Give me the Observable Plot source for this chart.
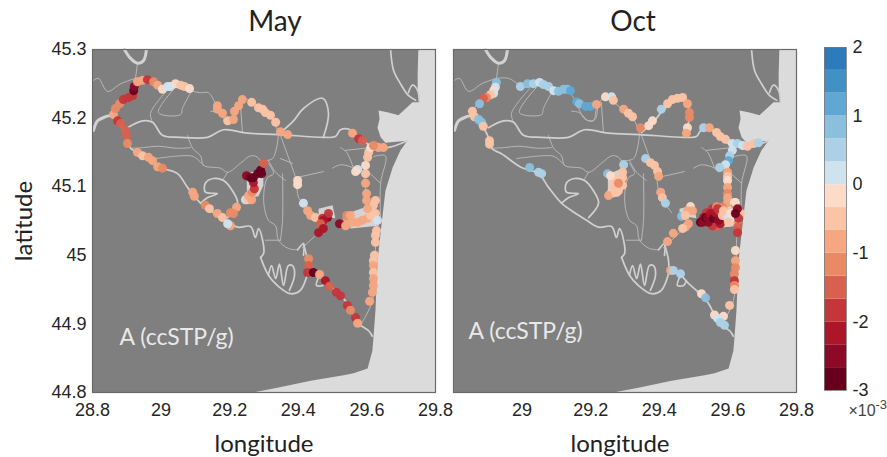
<!DOCTYPE html>
<html>
<head>
<meta charset="utf-8">
<script src="https://cdn.jsdelivr.net/npm/d3@7"></script>
<script src="https://cdn.jsdelivr.net/npm/@observablehq/plot@0.6"></script>
<style>
html,body{margin:0;padding:0;background:#fff;}
#chart{display:flex;width:887px;height:457px;overflow:hidden;}
#chart svg{display:block;flex:none;overflow:visible;background:transparent;}
</style>
</head>
<body>
<div id="chart"></div>
<script>
// Longitude / latitude of the sea outline
const sea = [[29.750,45.300],[29.748,45.265],[29.748,45.245],[29.753,45.223],[29.733,45.223],[29.707,45.211],[29.692,45.204],[29.663,45.208],[29.634,45.211],[29.637,45.199],[29.631,45.186],[29.640,45.172],[29.654,45.164],[29.718,45.167],[29.698,45.153],[29.675,45.128],[29.654,45.094],[29.645,45.055],[29.631,44.992],[29.625,44.920],[29.619,44.879],[29.616,44.861],[29.602,44.835],[29.561,44.828],[29.532,44.825],[29.436,44.817],[29.339,44.807],[29.266,44.800],[29.800,44.800],[29.800,45.300]];
const lakes = [
 [[29.250,45.118],[29.284,45.125],[29.298,45.122],[29.298,45.102],[29.284,45.086],[29.258,45.084],[29.250,45.096]],
 [[29.549,45.062],[29.611,45.073],[29.634,45.058],[29.634,45.043],[29.552,45.039]],
 [[29.459,45.068],[29.500,45.073],[29.508,45.054],[29.459,45.058]]
];
const riverCanals = [
 [[28.893,45.300],[28.911,45.287],[28.931,45.280],[28.949,45.284],[28.957,45.299]],
 [[28.803,45.182],[28.815,45.196],[28.838,45.202],[28.852,45.204]]
];
const mainCanals = [
 [[28.852,45.204],[28.873,45.196],[28.902,45.172],[28.911,45.156],[28.940,45.148],[28.998,45.128],[29.048,45.119],[29.077,45.099],[29.115,45.076],[29.153,45.062],[29.188,45.051],[29.223,45.041],[29.261,45.042],[29.275,45.026],[29.284,45.039],[29.296,45.022],[29.299,45.003],[29.290,44.997]],
 [[29.290,44.997],[29.313,44.971],[29.339,44.956],[29.377,44.944],[29.406,44.949],[29.427,44.973]],
 [[29.313,44.971],[29.322,44.985],[29.334,44.966],[29.345,44.987],[29.357,44.956],[29.371,44.985],[29.383,44.985],[29.389,44.971],[29.374,44.949]],
 [[29.427,44.973],[29.456,44.973],[29.485,44.959],[29.514,44.946],[29.543,44.930],[29.573,44.901],[29.581,44.898],[29.605,44.890],[29.616,44.882]],
 [[29.459,44.968],[29.453,44.956],[29.471,44.956],[29.479,44.963]],
 [[29.415,45.017],[29.427,44.992],[29.427,44.973]],
 [[29.398,45.008],[29.415,45.017],[29.415,45.000]],
 [[29.115,45.076],[29.135,45.084],[29.164,45.090],[29.129,45.092],[29.129,45.105],[29.153,45.112],[29.182,45.109],[29.208,45.094],[29.223,45.076],[29.194,45.055]],
 [[28.902,45.186],[28.946,45.196],[28.975,45.194],[29.004,45.175],[29.057,45.172],[29.135,45.172],[29.182,45.183],[29.252,45.178],[29.342,45.176],[29.473,45.172],[29.508,45.173],[29.523,45.183],[29.552,45.183],[29.581,45.170],[29.611,45.160],[29.660,45.157],[29.718,45.167]],
 [[29.348,45.179],[29.386,45.196],[29.415,45.214],[29.471,45.229],[29.488,45.207],[29.473,45.172]],
 [[29.669,45.300],[29.678,45.269],[29.698,45.250],[29.721,45.233],[29.742,45.226]],
 [[29.721,45.237],[29.733,45.248],[29.748,45.240],[29.753,45.223]]
];
const minorCanals = [
 [[28.931,45.280],[28.925,45.258],[28.917,45.243],[28.861,45.215],[28.852,45.204]],
 [[28.803,45.255],[28.817,45.258],[28.844,45.239],[28.882,45.250],[28.925,45.258]],
 [[28.925,45.258],[28.960,45.258],[29.007,45.245],[29.042,45.248],[29.086,45.240],[29.115,45.237],[29.138,45.237],[29.159,45.221],[29.182,45.199],[29.208,45.196],[29.217,45.214],[29.237,45.229],[29.266,45.223],[29.290,45.214],[29.319,45.204],[29.342,45.178]],
 [[28.975,45.194],[28.969,45.207],[29.022,45.243]],
 [[29.042,45.245],[28.992,45.208],[29.057,45.205],[29.062,45.214],[29.086,45.237]],
 [[29.231,45.223],[29.237,45.179]],
 [[29.144,45.210],[29.167,45.208],[29.194,45.196],[29.214,45.199],[29.220,45.218]],
 [[28.911,45.156],[28.949,45.157],[28.990,45.159],[29.048,45.156],[29.086,45.157]],
 [[29.077,45.175],[29.092,45.156],[29.115,45.145],[29.124,45.131],[29.173,45.127],[29.194,45.121],[29.231,45.134],[29.261,45.145],[29.281,45.143],[29.296,45.131]],
 [[28.984,45.141],[29.057,45.145],[29.094,45.144],[29.124,45.131]],
 [[29.194,45.121],[29.179,45.109]],
 [[29.342,45.175],[29.325,45.141],[29.290,45.138]],
 [[29.348,45.175],[29.371,45.143],[29.392,45.113],[29.401,45.084],[29.415,45.076],[29.436,45.062]],
 [[29.348,45.141],[29.383,45.134]],
 [[29.313,45.138],[29.334,45.121],[29.363,45.109]],
 [[29.354,45.119],[29.354,45.051],[29.348,45.022]],
 [[29.313,45.134],[29.328,45.119],[29.310,45.113],[29.299,45.080],[29.313,45.051],[29.334,45.043],[29.342,45.022],[29.371,45.010],[29.398,45.008]],
 [[29.304,45.022],[29.348,45.022]],
 [[29.392,45.113],[29.473,45.122]],
 [[29.500,45.127],[29.523,45.132],[29.561,45.127],[29.573,45.121]],
 [[29.523,45.157],[29.541,45.150],[29.561,45.127]],
 [[29.538,45.153],[29.611,45.157]],
 [[29.619,45.144],[29.654,45.145],[29.640,45.105],[29.640,45.048]],
 [[29.605,45.121],[29.640,45.105]],
 [[29.412,45.011],[29.459,45.033]],
 [[29.611,45.160],[29.596,45.128],[29.596,45.099],[29.602,45.065],[29.625,45.058],[29.625,45.017],[29.616,44.934],[29.581,44.898]]
];

// [longitude, latitude, A in units of 1e-3 ccSTP/g]
const mayDots = [[28.861,45.205,-1],[28.867,45.214,-1.2],[28.879,45.221,-1.2],[28.890,45.227,-1.7],[28.905,45.230,-1.8],[28.917,45.233,-1.9],[28.920,45.240,-2.9],[28.922,45.246,-2.5],[28.931,45.253,-1],[28.946,45.255,-1],[28.960,45.256,-1.9],[28.978,45.253,-1.2],[28.990,45.248,-.9],[29.004,45.242,-.3],[29.019,45.246,.3],[29.027,45.246,.3],[29.042,45.250,-.3],[29.057,45.248,-.6],[29.068,45.246,-.6],[29.083,45.243,-.2],
[29.164,45.218,-.9],[29.164,45.213,-.9],[29.179,45.207,-.9],[29.194,45.196,-.5],[29.211,45.198,-.7],[29.214,45.210,-.8],[29.226,45.218,-1],[29.237,45.227,-1],[29.264,45.223,-.4],[29.284,45.215,-.5],[29.296,45.213,-.4],[29.304,45.208,-.5],[29.319,45.204,-.5],[29.334,45.194,-.6],[29.348,45.180,-.8],[29.369,45.176,-1],
[28.873,45.196,-1.7],[28.882,45.192,-1.4],[28.896,45.182,-1.4],[28.899,45.175,-1.5],[28.902,45.163,-1.2],[28.931,45.150,-.8],[28.946,45.145,-.6],[28.963,45.143,-.8],[28.975,45.138,-.8],[28.990,45.129,-.7],[29.004,45.127,-1.3],[29.092,45.092,-1],[29.097,45.086,-.7],[29.129,45.073,-1.2],[29.141,45.068,-.6],[29.164,45.061,-.9],[29.179,45.055,-.6],[29.202,45.062,-1.1],[29.220,45.070,-.9],[29.211,45.061,-1.2],[29.202,45.043,-.8],[29.194,45.046,.1],
[29.246,45.081,.3],[29.252,45.081,-.5],[29.264,45.081,-.8],[29.255,45.087,-.8],[29.266,45.092,-1.2],[29.272,45.097,-1.7],[29.269,45.106,-2.1],[29.249,45.116,-2.4],[29.261,45.113,-2.8],[29.269,45.113,-2.7],[29.281,45.119,-2.8],[29.290,45.124,-2.8],[29.299,45.134,-1.6],[29.293,45.119,-2.9],
[29.398,45.109,-.3],[29.398,45.103,-.3],[29.415,45.076,.3],[29.427,45.065,-1],[29.436,45.058,-.9],[29.450,45.055,-.5],[29.471,45.054,-1.7],[29.485,45.055,-2.4],[29.488,45.061,-2],[29.473,45.051,-2.2],[29.465,45.046,-1.6],[29.473,45.039,-2.1],[29.459,45.033,-2.2],[29.520,45.046,-2.4],
[29.538,45.043,-.8],[29.543,45.054,-1],[29.558,45.048,-1],[29.573,45.048,-1],[29.587,45.051,-.8],[29.602,45.054,-.9],[29.611,45.058,-.6],[29.625,45.061,-.4],[29.631,45.051,.2],[29.541,45.058,-1.1],[29.552,45.058,-.9],[29.625,45.080,-.4],[29.619,45.073,-.4],[29.602,45.068,-1],[29.599,45.080,-1],[29.599,45.090,-1],[29.596,45.105,-1],[29.596,45.119,-.6],[29.596,45.131,-.3],[29.573,45.125,.3],[29.567,45.122,-.1],[29.602,45.143,-.5],[29.605,45.150,-.6],[29.611,45.157,-.2],[29.625,45.159,-1.3],[29.634,45.157,-1],[29.648,45.157,-.9],[29.619,45.160,-1.2],[29.558,45.178,-.9],[29.576,45.170,-1.8],[29.587,45.167,-1.6],
[29.628,45.036,-.5],[29.625,45.029,-.6],[29.625,45.019,-.6],[29.622,45.000,-.6],[29.619,44.992,-.6],[29.619,44.985,-.7],[29.619,44.975,-.6],[29.619,44.966,-.7],[29.619,44.956,-.7],[29.616,44.946,-.8],[29.608,44.933,-.8],
[29.430,44.995,-1.1],[29.430,44.985,-1.6],[29.427,44.975,-1.9],[29.444,44.975,-2.7],[29.462,44.972,-1],[29.479,44.963,-2.1],[29.491,44.955,-1.4],[29.511,44.946,-2],[29.523,44.941,-2],[29.543,44.927,-2],[29.552,44.920,-1.3],[29.567,44.909,-2],[29.573,44.901,-1]];

const octDots = [[28.925,45.252,.8],[28.922,45.245,.3],[28.917,45.240,-.3],[28.917,45.236,.2],[28.908,45.234,-.4],[28.896,45.230,-1.3],[28.887,45.229,-1.4],[28.876,45.221,.8],[28.855,45.210,-.6],[28.861,45.202,-.4],[28.873,45.198,.7],[28.882,45.194,.7],[28.887,45.188,-.5],[28.905,45.167,-.6],[28.905,45.162,-.6],[29.022,45.128,.9],[29.048,45.121,.4],[29.057,45.119,.4],
[28.995,45.246,.4],[29.016,45.250,.7],[29.033,45.250,.4],[29.051,45.252,.3],[29.062,45.249,.4],[29.077,45.246,.4],[29.092,45.240,.2],[29.106,45.239,.7],[29.121,45.242,.8],[29.132,45.242,.8],[29.141,45.240,1.2],[29.159,45.224,1],[29.167,45.221,.9],[29.185,45.217,1.2],[29.199,45.217,1.1],[29.217,45.220,-.8],[29.243,45.231,-.3],[29.261,45.231,.3],[29.266,45.226,-.5],[29.296,45.213,-.7],[29.310,45.207,-.5],[29.322,45.202,-.4],[29.345,45.186,-1.2],[29.369,45.189,-.3],[29.380,45.196,-.3],[29.406,45.213,.5],[29.424,45.221,-.6],[29.438,45.227,-.5],[29.453,45.229,-.4],[29.468,45.230,-.4],[29.482,45.221,-.7],[29.488,45.208,-1.1],[29.488,45.201,-1.1],[29.482,45.186,-.2],[29.479,45.178,-1],
[29.529,45.186,.5],[29.546,45.186,-.9],[29.567,45.179,-.5],[29.578,45.173,-.5],[29.593,45.169,-.6],[29.613,45.163,.3],[29.628,45.163,.4],[29.643,45.160,.2],[29.657,45.159,-.5],[29.675,45.163,-.5],[29.689,45.164,.6],[29.613,45.153,.2],[29.605,45.145,.6],[29.602,45.138,1],[29.593,45.132,.2],[29.576,45.128,.5],[29.599,45.121,-.8],[29.599,45.115,-.5],[29.599,45.109,-.1],[29.599,45.099,-.8],[29.599,45.090,-1.3],[29.599,45.084,-1],[29.599,45.077,-.7],[29.619,45.077,-.3],[29.637,45.061,-.5],
[29.360,45.141,.4],[29.374,45.135,-.4],[29.386,45.131,-.5],[29.395,45.122,-.6],[29.398,45.115,-.7],[29.404,45.092,-.9],[29.409,45.084,-.6],[29.418,45.076,.6],[29.491,45.071,-.3],[29.482,45.065,-.8],[29.497,45.065,-1],[29.465,45.057,.7],[29.476,45.058,-.5],[29.485,45.046,-.8],[29.476,45.041,-.8],[29.468,45.039,-.6],[29.441,45.032,-.8],[29.424,45.020,-1],
[29.433,44.978,-1],[29.441,44.978,.6],[29.462,44.973,.4],[29.523,44.944,-.3],[29.535,44.938,.8],[29.561,44.913,-.2],[29.587,44.911,-.3],[29.570,44.908,.3],[29.578,44.902,.4],[29.590,44.898,.5],[29.605,44.927,-.5],
[29.622,45.007,-.2],[29.622,44.992,-1],[29.622,44.982,-1.1],[29.619,44.973,-1.2],[29.619,44.963,-1.7],[29.619,44.956,-1.3],[29.619,44.950,-.4],[29.628,45.051,-1.3],[29.628,45.041,-1.5],[29.628,45.033,-1.8],
[29.555,45.068,-1.8],[29.567,45.071,-1.3],[29.584,45.070,-1.2],[29.622,45.073,-1.3],[29.567,45.042,-1.5],[29.555,45.043,-2],[29.578,45.046,-2.1],[29.543,45.048,-2.5],[29.538,45.062,-1.8],[29.529,45.055,-2.2],[29.520,45.048,-2.9],
[29.526,45.048,-2.6],[29.535,45.055,-2.7],[29.541,45.055,-2.6],[29.549,45.061,-2.2],[29.558,45.054,-2.8],[29.573,45.051,-2.4],[29.564,45.062,-2.1],[29.578,45.065,-1.6],[29.570,45.068,-2],
[29.590,45.061,-.4],[29.584,45.058,-.5],[29.599,45.058,.2],[29.608,45.054,.2],[29.602,45.048,-.6],[29.587,45.065,-.5],[29.608,45.061,-.3],[29.622,45.077,-.3],[29.631,45.054,-1.8],[29.628,45.068,-2.5],[29.622,45.061,-2.9],
[29.296,45.132,.5],[29.293,45.121,-.4],[29.293,45.113,-.4],[29.266,45.113,-.5],[29.249,45.119,.7],[29.258,45.116,-.3],[29.272,45.106,-.6],[29.293,45.102,-.5],[29.266,45.097,-.4],[29.258,45.090,.1],[29.252,45.087,-1],[29.281,45.094,-.6],[29.272,45.092,-.4],[29.264,45.099,-.4],[29.281,45.105,-1.2]];

const latTicks = [44.8, 44.9, 45, 45.1, 45.2, 45.3];
const mayLonTicks = [28.8, 29, 29.2, 29.4, 29.6, 29.8];
const octLonTicks = [29, 29.2, 29.4, 29.6, 29.8];
const barTicks = [-3, -2, -1, 0, 1, 2];
const barEdges = [-3,-2.6667,-2.3333,-2,-1.6667,-1.3333,-1,-0.6667,-0.3333,0,0.3333,0.6667,1,1.3333,1.6667,2];
const barColors = ["#67001f","#8c0a25","#ad1529","#c4363a","#d8604e","#e98a65","#f6a781","#fbc4a6","#fcdcc9","#cfe3ef","#acd1e6","#8bc0dd","#5fa8d3","#4291c5","#2c7cbb"];
const colorScale = {type:"threshold", domain:barEdges.slice(1,-1), range:barColors};

const tickFont = "Liberation Sans, Arial, sans-serif";
const textFont = "Lato, Carlito, sans-serif";

function panel(o){
  const canal = (l,stroke,strokeWidth) => Plot.line(l,{x:d=>d[0],y:d=>d[1],stroke,strokeWidth,curve:"catmull-rom"});
  return Plot.plot({
    width:o.width, height:457, marginLeft:o.left, marginRight:o.right, marginTop:49, marginBottom:65,
    x:{domain:[28.8,29.8]}, y:o.latAxis ? {domain:[44.8,45.3]} : {domain:[44.8,45.3],axis:null}, color:colorScale,
    style:{background:"transparent"},
    marks:[
      Plot.frame({fill:"#7f7f7f", stroke:null}),
      Plot.line(sea,{x:d=>d[0],y:d=>d[1],fill:"#dbdbdb",stroke:"none"}),
      lakes.map(l=>Plot.line(l,{x:d=>d[0],y:d=>d[1],fill:"#d4d4d4",stroke:"none"})),
      minorCanals.map(l=>canal(l,"#bdbdbd",.9)),
      mainCanals.map(l=>canal(l,"#d0d0d0",1.7)),
      riverCanals.map(l=>canal(l,"#d2d2d2",3)),
      Plot.dot(o.dots,{x:d=>d[0],y:d=>d[1],fill:d=>d[2],r:4.5,stroke:"none",fillOpacity:.96}),
      Plot.frame({stroke:"#6a6a6a",strokeWidth:1.2}),
      Plot.axisX(o.lonTicks,{tickSize:0,tickPadding:11,fontSize:18,fontFamily:tickFont,color:"#262626",label:null,tickFormat:d=>String(d),anchor:"bottom"}),
      o.latAxis ? Plot.axisY(latTicks,{tickSize:0,tickPadding:6,fontSize:18,fontFamily:tickFont,color:"#262626",label:null,tickFormat:d=>String(d),anchor:"left"}) : null,
      o.latAxis ? Plot.text(["latitude"],{frameAnchor:"left",textAnchor:"middle",lineAnchor:"middle",dx:-68,rotate:-90,fontSize:24,fontFamily:textFont,fill:"#222"}) : null,
      Plot.text([o.title],{frameAnchor:"top",lineAnchor:"middle",dy:-27,dx:o.titleDx,fontSize:28,fontFamily:textFont,fill:"#222"}),
      Plot.text(["longitude"],{frameAnchor:"bottom",lineAnchor:"middle",dy:52,dx:o.lonDx,fontSize:24,fontFamily:textFont,fill:"#222"}),
      Plot.text(["A (ccSTP/g)"],{frameAnchor:"bottom-left",textAnchor:"start",lineAnchor:"middle",dx:o.noteDx,dy:o.noteDy,fontSize:23,fontFamily:textFont,fill:"#e9e9e9"})
    ]
  });
}

const bins = barColors.map((c,i)=>({lo:barEdges[i],hi:barEdges[i+1]}));
const bar = Plot.plot({
  width:87, height:457, marginLeft:24, marginRight:41, marginTop:47, marginBottom:67,
  x:{domain:[0,1],axis:null}, y:{domain:[-3,2]}, color:colorScale,
  style:{background:"transparent"},
  marks:[
    Plot.rect(bins,{x1:0,x2:1,y1:"lo",y2:"hi",fill:d=>(d.lo+d.hi)/2,inset:0}),
    Plot.frame({stroke:"#7a7a7a",strokeWidth:.8}),
    Plot.axisY(barTicks,{anchor:"right",tickSize:0,tickPadding:6,fontSize:18,fontFamily:tickFont,color:"#262626",label:null,tickFormat:d=>String(d)}),
    Plot.text(["×10"],{frameAnchor:"bottom-left",textAnchor:"start",lineAnchor:"middle",dx:24,dy:20,fontSize:16,fontFamily:tickFont,fill:"#444"}),
    Plot.text(["-3"],{frameAnchor:"bottom-left",textAnchor:"start",lineAnchor:"middle",dx:51,dy:14,fontSize:13,fontFamily:tickFont,fill:"#444"})
  ]
});

const root = document.getElementById("chart");
root.append(
  panel({width:440,left:92,right:5,dots:mayDots,lonTicks:mayLonTicks,latAxis:true,title:"May",titleDx:11,lonDx:0,noteDx:27,noteDy:-55}),
  panel({width:360,left:13,right:4,dots:octDots,lonTicks:octLonTicks,latAxis:false,title:"Oct",titleDx:8,lonDx:-5,noteDx:15,noteDy:-61}),
  bar
);
</script>
</body>
</html>
